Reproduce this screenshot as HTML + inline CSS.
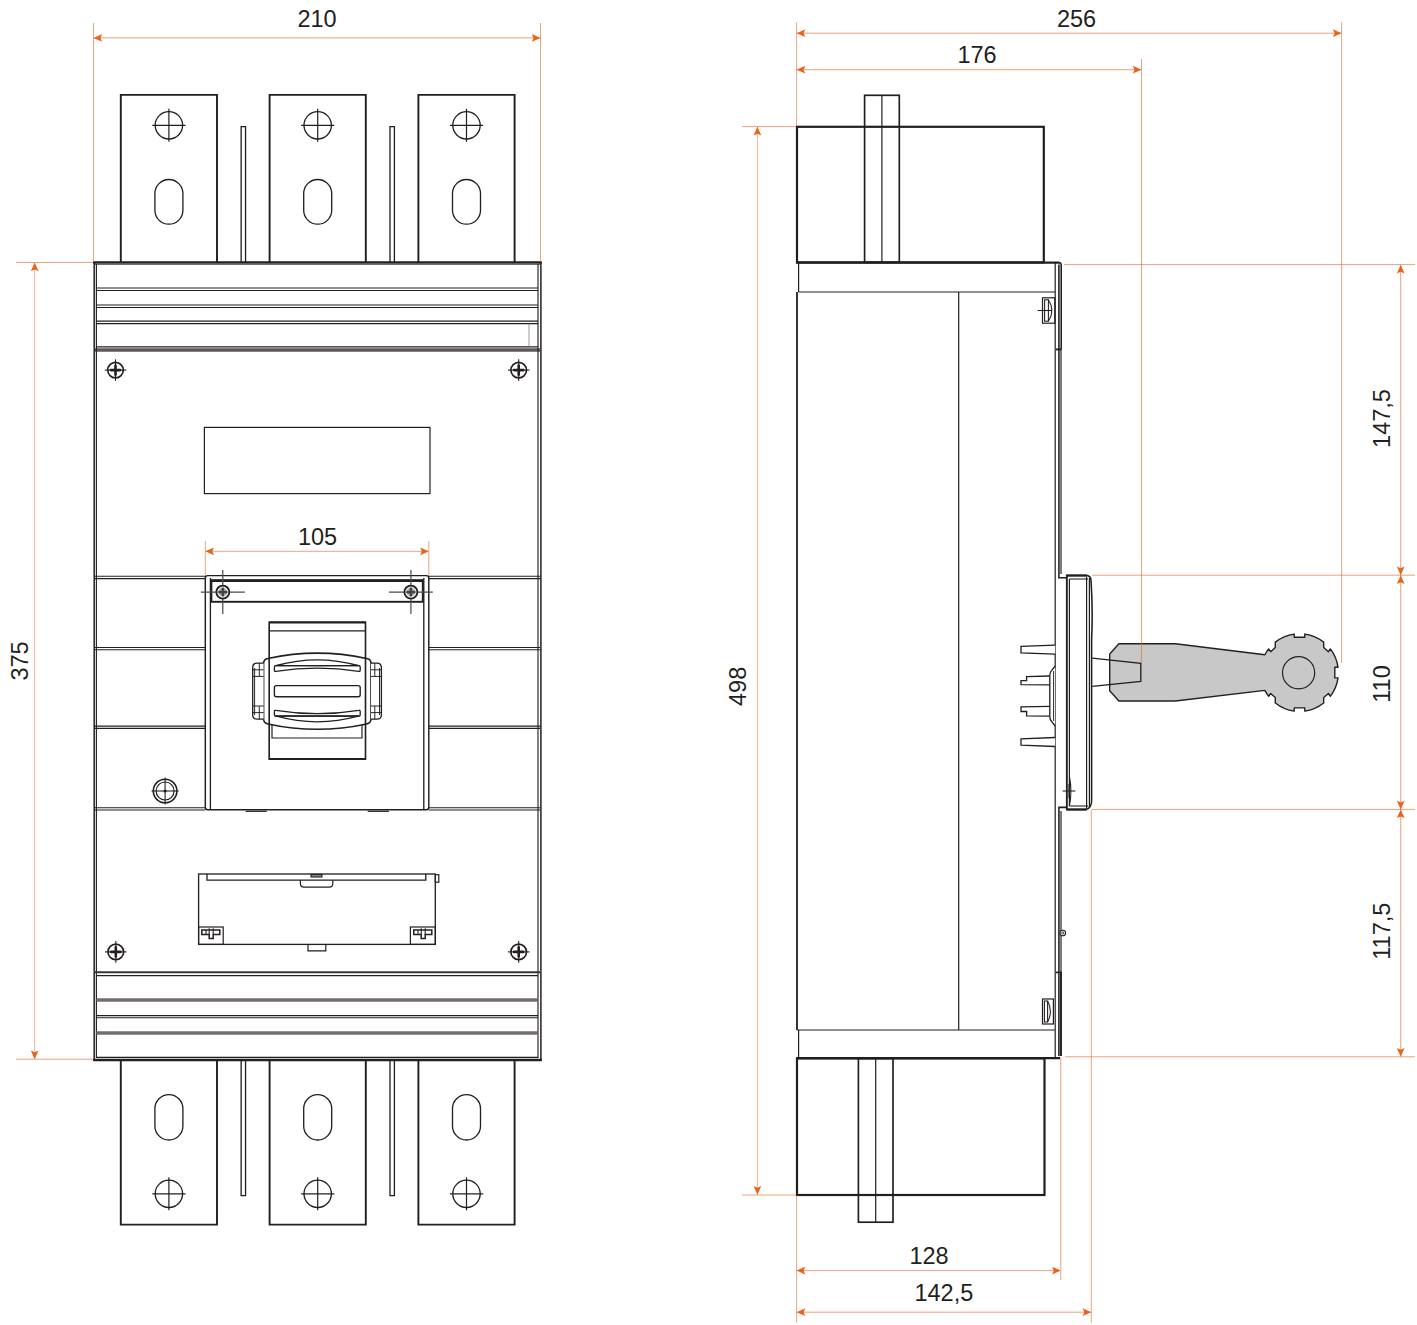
<!DOCTYPE html>
<html><head><meta charset="utf-8"><title>Dimensions</title>
<style>
html,body{margin:0;padding:0;background:#fff}
svg{display:block}
text{font-family:"Liberation Sans",Arial,Helvetica,sans-serif;font-size:23.5px;fill:#231f20}
.k{stroke:#231f20;fill:none}
.o{stroke:#dd6a30;fill:none}
.ar{fill:#e8641e;stroke:none}
</style></head><body>
<svg width="1417" height="1325" viewBox="0 0 1417 1325">
<rect width="1417" height="1325" fill="#fff"/>

<g id="front">
<path d="M120.8 262 V94.9 H217.0 V262" stroke="#231f20" stroke-width="1.92" fill="none" />
<circle cx="168.9" cy="125.3" r="13.7" stroke="#231f20" stroke-width="1.32" fill="none"/>
<line x1="152.3" y1="125.3" x2="185.5" y2="125.3" stroke="#231f20" stroke-width="1.2" />
<line x1="168.9" y1="108.8" x2="168.9" y2="141.8" stroke="#231f20" stroke-width="1.2" />
<rect x="154.9" y="179.5" width="28.0" height="44.7" rx="14" stroke="#231f20" stroke-width="1.32" fill="none"/>
<path d="M120.8 1060.5 V1224.6 H217.0 V1060.5" stroke="#231f20" stroke-width="1.92" fill="none" />
<circle cx="168.9" cy="1193.8" r="13.7" stroke="#231f20" stroke-width="1.32" fill="none"/>
<line x1="152.3" y1="1193.8" x2="185.5" y2="1193.8" stroke="#231f20" stroke-width="1.2" />
<line x1="168.9" y1="1177.3" x2="168.9" y2="1210.3" stroke="#231f20" stroke-width="1.2" />
<rect x="154.9" y="1094.7" width="28.0" height="45.3" rx="14" stroke="#231f20" stroke-width="1.32" fill="none"/>
<path d="M269.6 262 V94.9 H365.8 V262" stroke="#231f20" stroke-width="1.92" fill="none" />
<circle cx="317.7" cy="125.3" r="13.7" stroke="#231f20" stroke-width="1.32" fill="none"/>
<line x1="301.09999999999997" y1="125.3" x2="334.3" y2="125.3" stroke="#231f20" stroke-width="1.2" />
<line x1="317.7" y1="108.8" x2="317.7" y2="141.8" stroke="#231f20" stroke-width="1.2" />
<rect x="303.7" y="179.5" width="28.0" height="44.7" rx="14" stroke="#231f20" stroke-width="1.32" fill="none"/>
<path d="M269.6 1060.5 V1224.6 H365.8 V1060.5" stroke="#231f20" stroke-width="1.92" fill="none" />
<circle cx="317.7" cy="1193.8" r="13.7" stroke="#231f20" stroke-width="1.32" fill="none"/>
<line x1="301.09999999999997" y1="1193.8" x2="334.3" y2="1193.8" stroke="#231f20" stroke-width="1.2" />
<line x1="317.7" y1="1177.3" x2="317.7" y2="1210.3" stroke="#231f20" stroke-width="1.2" />
<rect x="303.7" y="1094.7" width="28.0" height="45.3" rx="14" stroke="#231f20" stroke-width="1.32" fill="none"/>
<path d="M418.4 262 V94.9 H514.6 V262" stroke="#231f20" stroke-width="1.92" fill="none" />
<circle cx="466.5" cy="125.3" r="13.7" stroke="#231f20" stroke-width="1.32" fill="none"/>
<line x1="449.9" y1="125.3" x2="483.1" y2="125.3" stroke="#231f20" stroke-width="1.2" />
<line x1="466.5" y1="108.8" x2="466.5" y2="141.8" stroke="#231f20" stroke-width="1.2" />
<rect x="452.5" y="179.5" width="28.0" height="44.7" rx="14" stroke="#231f20" stroke-width="1.32" fill="none"/>
<path d="M418.4 1060.5 V1224.6 H514.6 V1060.5" stroke="#231f20" stroke-width="1.92" fill="none" />
<circle cx="466.5" cy="1193.8" r="13.7" stroke="#231f20" stroke-width="1.32" fill="none"/>
<line x1="449.9" y1="1193.8" x2="483.1" y2="1193.8" stroke="#231f20" stroke-width="1.2" />
<line x1="466.5" y1="1177.3" x2="466.5" y2="1210.3" stroke="#231f20" stroke-width="1.2" />
<rect x="452.5" y="1094.7" width="28.0" height="45.3" rx="14" stroke="#231f20" stroke-width="1.32" fill="none"/>
<path d="M241.15 262 V126.6 H245.55 V262" stroke="#231f20" stroke-width="1.32" fill="none" />
<path d="M241.15 1060.5 V1195.6 H245.55 V1060.5" stroke="#231f20" stroke-width="1.32" fill="none" />
<path d="M390.00 262 V126.6 H394.40 V262" stroke="#231f20" stroke-width="1.32" fill="none" />
<path d="M390.00 1060.5 V1195.6 H394.40 V1060.5" stroke="#231f20" stroke-width="1.32" fill="none" />
<line x1="93.2" y1="262.5" x2="541.8" y2="262.5" stroke="#231f20" stroke-width="2.3" />
<line x1="95" y1="264.4" x2="540" y2="264.4" stroke="#756e70" stroke-width="1.1" />
<line x1="96.5" y1="288.0" x2="538" y2="288.0" stroke="#231f20" stroke-width="1.2" />
<line x1="96.5" y1="290.5" x2="538" y2="290.5" stroke="#231f20" stroke-width="1.2" />
<line x1="96.5" y1="305.0" x2="538" y2="305.0" stroke="#231f20" stroke-width="1.2" />
<line x1="96.5" y1="307.5" x2="538" y2="307.5" stroke="#231f20" stroke-width="1.2" />
<line x1="96.5" y1="321.2" x2="538" y2="321.2" stroke="#231f20" stroke-width="1.2" />
<line x1="96.5" y1="323.7" x2="538" y2="323.7" stroke="#231f20" stroke-width="1.2" />
<line x1="96.5" y1="346.9" x2="538" y2="346.9" stroke="#231f20" stroke-width="1.2" />
<line x1="95" y1="350.0" x2="540" y2="350.0" stroke="#5e5758" stroke-width="3.4" />
<line x1="529" y1="323.5" x2="529" y2="347.5" stroke="#756e70" stroke-width="0.7" />
<line x1="94.2" y1="262" x2="94.2" y2="1061" stroke="#231f20" stroke-width="1.5" />
<line x1="96.4" y1="264" x2="96.4" y2="1058" stroke="#231f20" stroke-width="1.14" />
<line x1="540.9" y1="262" x2="540.9" y2="1061" stroke="#231f20" stroke-width="1.5" />
<line x1="538.0" y1="264" x2="538.0" y2="1058" stroke="#231f20" stroke-width="1.14" />
<line x1="93.2" y1="1060.0" x2="541.8" y2="1060.0" stroke="#231f20" stroke-width="2.5" />
<line x1="96.5" y1="1057.4" x2="538" y2="1057.4" stroke="#231f20" stroke-width="1.2" />
<line x1="95" y1="972.3" x2="540" y2="972.3" stroke="#3a3536" stroke-width="2.0" />
<line x1="96.5" y1="975.7" x2="538" y2="975.7" stroke="#231f20" stroke-width="1.2" />
<line x1="96.5" y1="999.9" x2="538" y2="999.9" stroke="#756e70" stroke-width="3.5" />
<line x1="96.5" y1="1015.6" x2="538" y2="1015.6" stroke="#231f20" stroke-width="1.14" />
<line x1="96.5" y1="1017.8" x2="538" y2="1017.8" stroke="#231f20" stroke-width="1.14" />
<line x1="96.5" y1="1033.0" x2="538" y2="1033.0" stroke="#756e70" stroke-width="3.3" />
<circle cx="115.5" cy="370.1" r="7.8" stroke="#231f20" stroke-width="1.68" fill="none"/>
<line x1="104.7" y1="370.1" x2="126.3" y2="370.1" stroke="#231f20" stroke-width="1.08" />
<line x1="115.5" y1="359.3" x2="115.5" y2="380.90000000000003" stroke="#231f20" stroke-width="1.08" />
<path d="M110.9 370.1 H120.1 M115.5 365.5 V374.70000000000005" stroke="#231f20" stroke-width="2.6" fill="none" stroke-linecap="round"/>
<circle cx="518.7" cy="370.1" r="7.8" stroke="#231f20" stroke-width="1.68" fill="none"/>
<line x1="507.90000000000003" y1="370.1" x2="529.5" y2="370.1" stroke="#231f20" stroke-width="1.08" />
<line x1="518.7" y1="359.3" x2="518.7" y2="380.90000000000003" stroke="#231f20" stroke-width="1.08" />
<path d="M514.1 370.1 H523.3000000000001 M518.7 365.5 V374.70000000000005" stroke="#231f20" stroke-width="2.6" fill="none" stroke-linecap="round"/>
<circle cx="115.8" cy="951.9" r="7.8" stroke="#231f20" stroke-width="1.68" fill="none"/>
<line x1="105.0" y1="951.9" x2="126.6" y2="951.9" stroke="#231f20" stroke-width="1.08" />
<line x1="115.8" y1="941.1" x2="115.8" y2="962.6999999999999" stroke="#231f20" stroke-width="1.08" />
<path d="M111.2 951.9 H120.39999999999999 M115.8 947.3 V956.5" stroke="#231f20" stroke-width="2.6" fill="none" stroke-linecap="round"/>
<circle cx="518.7" cy="951.9" r="7.8" stroke="#231f20" stroke-width="1.68" fill="none"/>
<line x1="507.90000000000003" y1="951.9" x2="529.5" y2="951.9" stroke="#231f20" stroke-width="1.08" />
<line x1="518.7" y1="941.1" x2="518.7" y2="962.6999999999999" stroke="#231f20" stroke-width="1.08" />
<path d="M514.1 951.9 H523.3000000000001 M518.7 947.3 V956.5" stroke="#231f20" stroke-width="2.6" fill="none" stroke-linecap="round"/>
<rect x="204.4" y="427.4" width="225.6" height="66.2" rx="0" stroke="#231f20" stroke-width="1.2" fill="none"/>
<line x1="94" y1="576.3" x2="205.3" y2="576.3" stroke="#231f20" stroke-width="1.08" />
<line x1="94" y1="578.6" x2="205.3" y2="578.6" stroke="#231f20" stroke-width="1.08" />
<line x1="428.8" y1="576.3" x2="540.4" y2="576.3" stroke="#231f20" stroke-width="1.08" />
<line x1="428.8" y1="578.6" x2="540.4" y2="578.6" stroke="#231f20" stroke-width="1.08" />
<line x1="94" y1="647.5" x2="205.3" y2="647.5" stroke="#231f20" stroke-width="1.08" />
<line x1="94" y1="649.8000000000001" x2="205.3" y2="649.8000000000001" stroke="#231f20" stroke-width="1.08" />
<line x1="428.8" y1="647.5" x2="540.4" y2="647.5" stroke="#231f20" stroke-width="1.08" />
<line x1="428.8" y1="649.8000000000001" x2="540.4" y2="649.8000000000001" stroke="#231f20" stroke-width="1.08" />
<line x1="94" y1="726.1" x2="205.3" y2="726.1" stroke="#231f20" stroke-width="1.08" />
<line x1="94" y1="728.4000000000001" x2="205.3" y2="728.4000000000001" stroke="#231f20" stroke-width="1.08" />
<line x1="428.8" y1="726.1" x2="540.4" y2="726.1" stroke="#231f20" stroke-width="1.08" />
<line x1="428.8" y1="728.4000000000001" x2="540.4" y2="728.4000000000001" stroke="#231f20" stroke-width="1.08" />
<line x1="94" y1="807.6999999999999" x2="205.3" y2="807.6999999999999" stroke="#231f20" stroke-width="1.08" />
<line x1="94" y1="810.0" x2="205.3" y2="810.0" stroke="#231f20" stroke-width="1.08" />
<line x1="428.8" y1="807.6999999999999" x2="540.4" y2="807.6999999999999" stroke="#231f20" stroke-width="1.08" />
<line x1="428.8" y1="810.0" x2="540.4" y2="810.0" stroke="#231f20" stroke-width="1.08" />
<rect x="205.3" y="575.6" width="223.5" height="234.1" rx="2.5" stroke="#231f20" stroke-width="1.44" fill="none"/>
<line x1="210.4" y1="578" x2="210.4" y2="809" stroke="#231f20" stroke-width="1.32" />
<line x1="423.8" y1="578" x2="423.8" y2="809" stroke="#231f20" stroke-width="1.32" />
<rect x="211.4" y="580.6" width="211.4" height="21.2" rx="0" stroke="#231f20" stroke-width="1.92" fill="none"/>
<line x1="211" y1="580.6" x2="423.2" y2="580.6" stroke="#231f20" stroke-width="2.6" />
<line x1="200.8" y1="592.1" x2="244.8" y2="592.1" stroke="#4a4a4a" stroke-width="1.2" />
<line x1="222.8" y1="570.1" x2="222.8" y2="614.1" stroke="#4a4a4a" stroke-width="1.2" />
<circle cx="222.8" cy="592.1" r="6.5" stroke="#231f20" stroke-width="1.8" fill="#fff"/>
<circle cx="222.8" cy="592.1" r="4.6" stroke="#231f20" stroke-width="0.0" fill="#b9b9b9"/>
<line x1="216.8" y1="592.1" x2="228.8" y2="592.1" stroke="#555" stroke-width="0.8" />
<path d="M219.60000000000002 592.1 H226.0 M222.8 588.9 V595.3000000000001" stroke="#444" stroke-width="2.6" fill="none" stroke-linecap="round"/>
<line x1="388.9" y1="592.1" x2="432.9" y2="592.1" stroke="#4a4a4a" stroke-width="1.2" />
<line x1="410.9" y1="570.1" x2="410.9" y2="614.1" stroke="#4a4a4a" stroke-width="1.2" />
<circle cx="410.9" cy="592.1" r="6.5" stroke="#231f20" stroke-width="1.8" fill="#fff"/>
<circle cx="410.9" cy="592.1" r="4.6" stroke="#231f20" stroke-width="0.0" fill="#b9b9b9"/>
<line x1="404.9" y1="592.1" x2="416.9" y2="592.1" stroke="#555" stroke-width="0.8" />
<path d="M407.7 592.1 H414.09999999999997 M410.9 588.9 V595.3000000000001" stroke="#444" stroke-width="2.6" fill="none" stroke-linecap="round"/>
<line x1="245.6" y1="811.3" x2="266.8" y2="811.3" stroke="#231f20" stroke-width="1.2" />
<line x1="367.7" y1="811.3" x2="388.9" y2="811.3" stroke="#231f20" stroke-width="1.2" />
<rect x="269.2" y="622.2" width="96.3" height="137.0" rx="0" stroke="#231f20" stroke-width="1.62" fill="none"/>
<line x1="269" y1="622.4" x2="365.7" y2="622.4" stroke="#231f20" stroke-width="2.0" />
<line x1="269" y1="759" x2="365.7" y2="759" stroke="#231f20" stroke-width="2.0" />
<line x1="269" y1="630.8" x2="365.7" y2="630.8" stroke="#231f20" stroke-width="1.2" />
<path d="M272 725 V738 H362 V725" stroke="#231f20" stroke-width="1.2" fill="none" />
<path d="M263.6 663.4 Q263.6 659 268 658.4 Q317.3 647.8 366.6 658.4 Q371 659 371 663.4 V718.8 Q371 723.2 366.6 723.9 Q317.3 734.7 268 723.9 Q263.6 723.2 263.6 718.8 Z" stroke="#231f20" stroke-width="1.56" fill="#fff" />
<line x1="269.2" y1="657.5" x2="269.2" y2="724.5" stroke="#231f20" stroke-width="1.62" />
<line x1="365.5" y1="657.5" x2="365.5" y2="724.5" stroke="#231f20" stroke-width="1.62" />
<path d="M263.6 663.2 H257.2 Q252.7 663.2 252.7 667.7 V714.7 Q252.7 719.2 257.2 719.2 H263.6" stroke="#231f20" stroke-width="1.32" fill="#fff" />
<line x1="252.7" y1="669.8" x2="263.6" y2="669.8" stroke="#231f20" stroke-width="0.96" />
<line x1="252.7" y1="676.4" x2="263.6" y2="676.4" stroke="#231f20" stroke-width="0.96" />
<line x1="252.7" y1="706" x2="263.6" y2="706" stroke="#231f20" stroke-width="0.96" />
<line x1="252.7" y1="712.6" x2="263.6" y2="712.6" stroke="#231f20" stroke-width="0.96" />
<line x1="254.6" y1="668" x2="254.6" y2="715" stroke="#231f20" stroke-width="0.96" />
<line x1="259.3" y1="663.2" x2="259.3" y2="676.4" stroke="#231f20" stroke-width="0.96" />
<line x1="259.3" y1="706" x2="259.3" y2="719.2" stroke="#231f20" stroke-width="0.96" />
<path d="M371 663.2 H376.9 Q381.4 663.2 381.4 667.7 V714.7 Q381.4 719.2 376.9 719.2 H371" stroke="#231f20" stroke-width="1.32" fill="#fff" />
<line x1="371" y1="669.8" x2="381.4" y2="669.8" stroke="#231f20" stroke-width="0.96" />
<line x1="371" y1="676.4" x2="381.4" y2="676.4" stroke="#231f20" stroke-width="0.96" />
<line x1="371" y1="706" x2="381.4" y2="706" stroke="#231f20" stroke-width="0.96" />
<line x1="371" y1="712.6" x2="381.4" y2="712.6" stroke="#231f20" stroke-width="0.96" />
<line x1="379.5" y1="668" x2="379.5" y2="715" stroke="#231f20" stroke-width="0.96" />
<line x1="374.79999999999995" y1="663.2" x2="374.79999999999995" y2="676.4" stroke="#231f20" stroke-width="0.96" />
<line x1="374.79999999999995" y1="706" x2="374.79999999999995" y2="719.2" stroke="#231f20" stroke-width="0.96" />
<path d="M274.4 667 Q274.4 665.7 275.6 665.7 H359 Q360.2 665.7 360.2 667 V670 Q360.2 671.7 358.8 671.4 Q317.3 664.7 275.8 671.4 Q274.4 671.7 274.4 670 Z" stroke="#231f20" stroke-width="1.32" fill="none" />
<line x1="275.2" y1="665.6" x2="359.4" y2="665.6" stroke="#231f20" stroke-width="1.38" />
<path d="M276.4 665.5 Q317.3 654.3 358.2 665.5" stroke="#231f20" stroke-width="1.32" fill="none" />
<path d="M274.4 714.7 Q274.4 716.0 275.6 716.0 H359 Q360.2 716.0 360.2 714.7 V711.7 Q360.2 710.0 358.8 710.3 Q317.3 717.0 275.8 710.3 Q274.4 710.0 274.4 711.7 Z" stroke="#231f20" stroke-width="1.32" fill="none" />
<line x1="275.2" y1="716.1" x2="359.4" y2="716.1" stroke="#231f20" stroke-width="1.38" />
<path d="M276.4 716.2 Q317.3 727.4 358.2 716.2" stroke="#231f20" stroke-width="1.32" fill="none" />
<rect x="274.4" y="685.6" width="85.8" height="11.1" rx="2" stroke="#231f20" stroke-width="1.38" fill="none"/>
<circle cx="165.1" cy="791" r="11.8" stroke="#231f20" stroke-width="1.56" fill="none"/>
<circle cx="165.1" cy="791" r="9" stroke="#231f20" stroke-width="1.2" fill="none"/>
<line x1="151.5" y1="791" x2="178.7" y2="791" stroke="#231f20" stroke-width="1.08" />
<line x1="165.1" y1="777.4" x2="165.1" y2="804.6" stroke="#231f20" stroke-width="1.08" />
<circle cx="165.1" cy="791" r="1.6" stroke="#231f20" stroke-width="0.0" fill="#231f20"/>
<rect x="198.6" y="874" width="236.7" height="70.4" rx="0" stroke="#231f20" stroke-width="1.32" fill="none"/>
<path d="M207 874 V880.2 H425.8 V874" stroke="#231f20" stroke-width="1.32" fill="none" />
<rect x="311" y="874.4" width="11" height="2.6" rx="0" stroke="#231f20" stroke-width="1.08" fill="#888"/>
<path d="M300.4 880.2 V883.6 Q300.4 887.2 304 887.2 H329.2 Q332.8 887.2 332.8 883.6 V880.2" stroke="#231f20" stroke-width="1.2" fill="none" />
<path d="M308 944.4 V950.8 H325.8 V944.4" stroke="#231f20" stroke-width="1.2" fill="none" />
<rect x="198.6" y="927" width="24.6" height="17.4" rx="0" stroke="#231f20" stroke-width="1.2" fill="none"/>
<rect x="410.4" y="927" width="24.9" height="17.4" rx="0" stroke="#231f20" stroke-width="1.2" fill="none"/>
<path d="M201.79999999999998 930 H219.79999999999998 V934.6 H213.2 V938.4 H209.2 V934.6 H201.79999999999998 Z" stroke="#231f20" stroke-width="1.5" fill="none" />
<line x1="206.0" y1="930" x2="206.0" y2="934.6" stroke="#231f20" stroke-width="1.08" />
<line x1="209.2" y1="928.2" x2="209.2" y2="934.6" stroke="#231f20" stroke-width="1.08" />
<line x1="213.2" y1="928.2" x2="213.2" y2="934.6" stroke="#231f20" stroke-width="1.08" />
<path d="M413.8 930 H431.8 V934.6 H425.20000000000005 V938.4 H421.20000000000005 V934.6 H413.8 Z" stroke="#231f20" stroke-width="1.5" fill="none" />
<line x1="418.0" y1="930" x2="418.0" y2="934.6" stroke="#231f20" stroke-width="1.08" />
<line x1="421.20000000000005" y1="928.2" x2="421.20000000000005" y2="934.6" stroke="#231f20" stroke-width="1.08" />
<line x1="425.20000000000005" y1="928.2" x2="425.20000000000005" y2="934.6" stroke="#231f20" stroke-width="1.08" />
<rect x="435.3" y="874.7" width="3.5" height="7.5" rx="0" stroke="#231f20" stroke-width="1.2" fill="none"/>
</g>
<g id="dimL">
<line class="o" x1="93.5" y1="23" x2="93.5" y2="262" stroke-width="0.62"/>
<line class="o" x1="540.5" y1="23" x2="540.5" y2="262" stroke-width="0.62"/>
<line class="o" x1="94" y1="37.9" x2="540" y2="37.9" stroke-width="0.62"/>
<polygon class="ar" points="93.5,37.9 102.2,34.0 100.5,37.9 102.2,41.8"/>
<polygon class="ar" points="540.5,37.9 531.8,34.0 533.5,37.9 531.8,41.8"/>
<line class="o" x1="16" y1="262.5" x2="93" y2="262.5" stroke-width="0.62"/>
<line class="o" x1="16" y1="1059.2" x2="93" y2="1059.2" stroke-width="0.62"/>
<line class="o" x1="34.7" y1="263" x2="34.7" y2="1059" stroke-width="0.5"/>
<polygon class="ar" points="34.7,262.6 30.8,271.3 34.7,269.6 38.6,271.3"/>
<polygon class="ar" points="34.7,1059.2 30.8,1050.5 34.7,1052.2 38.6,1050.5"/>
<line class="o" x1="205.3" y1="541" x2="205.3" y2="576" stroke-width="0.62"/>
<line class="o" x1="428.8" y1="541" x2="428.8" y2="576" stroke-width="0.62"/>
<line class="o" x1="206" y1="551.3" x2="428" y2="551.3" stroke-width="0.62"/>
<polygon class="ar" points="205.3,551.3 214.0,547.4 212.3,551.3 214.0,555.2"/>
<polygon class="ar" points="428.8,551.3 420.1,547.4 421.8,551.3 420.1,555.2"/>
<text x="317" y="26.8" text-anchor="middle">210</text>
<text x="317.5" y="544.7" text-anchor="middle">105</text>
<text transform="translate(27.8 661) rotate(-90)" text-anchor="middle">375</text>
</g>
<g id="side">
<rect x="864.6" y="95.3" width="34.7" height="167.1" rx="0" stroke="#231f20" stroke-width="1.68" fill="none"/>
<line x1="881.9" y1="95.3" x2="881.9" y2="262" stroke="#231f20" stroke-width="1.2" />
<rect x="797" y="126.8" width="246.8" height="135.6" rx="0" stroke="#231f20" stroke-width="2.2" fill="none"/>
<line x1="796.2" y1="262.6" x2="1059" y2="262.6" stroke="#231f20" stroke-width="2.2" />
<line x1="798.6" y1="263" x2="798.6" y2="292" stroke="#231f20" stroke-width="1.2" />
<line x1="798.6" y1="292" x2="1055" y2="292" stroke="#231f20" stroke-width="1.2" />
<line x1="797" y1="292" x2="797" y2="1030" stroke="#231f20" stroke-width="1.8" />
<line x1="958.7" y1="292" x2="958.7" y2="1030" stroke="#231f20" stroke-width="1.2" />
<line x1="797" y1="1030" x2="1055" y2="1030" stroke="#231f20" stroke-width="1.2" />
<line x1="798.6" y1="1030" x2="798.6" y2="1058" stroke="#231f20" stroke-width="1.2" />
<line x1="796.2" y1="1058.2" x2="1060" y2="1058.2" stroke="#231f20" stroke-width="2.2" />
<line x1="1055.2" y1="263" x2="1055.2" y2="1057" stroke="#231f20" stroke-width="1.2" />
<path d="M1058.9 264.5 V577.8 H1068" stroke="#231f20" stroke-width="1.56" fill="none" />
<path d="M1059 262.6 Q1061.2 262.8 1061.2 265 V349" stroke="#231f20" stroke-width="1.56" fill="none" />
<line x1="1061" y1="349" x2="1061" y2="574" stroke="#231f20" stroke-width="1.2" />
<line x1="1056" y1="349.4" x2="1061.4" y2="349.4" stroke="#231f20" stroke-width="1.92" />
<rect x="1042.5" y="297.8" width="12.3" height="25.4" rx="0" stroke="#231f20" stroke-width="1.2" fill="none"/>
<rect x="1044.6" y="299.8" width="3.8" height="21.4" rx="0" stroke="#231f20" stroke-width="1.08" fill="none"/>
<path d="M1048.4 299.8 Q1055.5 310.5 1048.4 321.2" stroke="#231f20" stroke-width="1.08" fill="none" />
<line x1="1037.6" y1="310.5" x2="1052" y2="310.5" stroke="#231f20" stroke-width="1.08" />
<rect x="1042.5" y="999" width="10.9" height="25" rx="0" stroke="#231f20" stroke-width="1.2" fill="none"/>
<rect x="1044.4" y="1001" width="3.2" height="21" rx="0" stroke="#231f20" stroke-width="1.08" fill="none"/>
<path d="M1047.6 1001 Q1053.2 1011.5 1047.6 1022" stroke="#231f20" stroke-width="1.08" fill="none" />
<path d="M1068 807.4 H1058.9 V1056" stroke="#231f20" stroke-width="1.56" fill="none" />
<line x1="1061" y1="811" x2="1061" y2="972" stroke="#231f20" stroke-width="1.2" />
<line x1="1061" y1="972" x2="1061" y2="1056" stroke="#231f20" stroke-width="1.92" />
<line x1="1056" y1="972.4" x2="1061.4" y2="972.4" stroke="#231f20" stroke-width="1.68" />
<circle cx="1062.8" cy="933" r="2.8" stroke="#231f20" stroke-width="1.08" fill="#fff"/>
<circle cx="1062.8" cy="933" r="1.1" stroke="#231f20" stroke-width="0.84" fill="none"/>
<path d="M1066.7 575.4 H1086 Q1090.6 575.6 1091 580 Q1093 610 1091.6 640 V800 Q1091.8 808 1086 809.6 H1066.7 Z" stroke="#231f20" stroke-width="1.56" fill="#fff" />
<line x1="1066.7" y1="575.6" x2="1087" y2="575.6" stroke="#231f20" stroke-width="2.0" />
<line x1="1066.7" y1="809.4" x2="1087" y2="809.4" stroke="#231f20" stroke-width="2.0" />
<line x1="1066.8" y1="576" x2="1066.8" y2="809" stroke="#231f20" stroke-width="1.56" />
<line x1="1069.4" y1="579" x2="1069.4" y2="806" stroke="#231f20" stroke-width="1.2" />
<line x1="1069.4" y1="579" x2="1088" y2="579" stroke="#231f20" stroke-width="1.08" />
<line x1="1069.4" y1="806" x2="1088" y2="806" stroke="#231f20" stroke-width="1.08" />
<line x1="1086.6" y1="577" x2="1086.6" y2="808" stroke="#231f20" stroke-width="1.2" />
<line x1="1089.4" y1="578" x2="1089.4" y2="807" stroke="#231f20" stroke-width="1.2" />
<line x1="1062.6" y1="791" x2="1075.4" y2="791" stroke="#231f20" stroke-width="1.08" />
<line x1="1069" y1="784" x2="1069" y2="798" stroke="#231f20" stroke-width="1.08" />
<path d="M1069.4 776 Q1072.4 791 1069.4 806" stroke="#231f20" stroke-width="1.08" fill="none" />
<path d="M1055.2 645.1 L1021 646.4 V652.8000000000001 L1055.2 654.1" stroke="#231f20" stroke-width="1.32" fill="#fff" />
<path d="M1055.2 737.5 L1021 738.8 V745.2 L1055.2 746.5" stroke="#231f20" stroke-width="1.32" fill="#fff" />
<path d="M1049.8 676 L1026.6 676.7 V680.6 H1021 V684.6 L1049.8 684.8" stroke="#231f20" stroke-width="1.32" fill="#fff" />
<path d="M1049.8 716.2 L1026.6 715.8 V711.5 H1021 V706.8 L1049.8 706.4" stroke="#231f20" stroke-width="1.32" fill="#fff" />
<path d="M1055.2 666 L1051.6 670.6 Q1049.8 672.4 1049.8 675 V717 Q1049.8 719.6 1051.6 721.4 L1055.2 726" stroke="#231f20" stroke-width="1.32" fill="#fff" />
<line x1="1053.6" y1="671" x2="1053.6" y2="721" stroke="#231f20" stroke-width="0.96" />
<path d="M1109.7 654 L1118.9 643.7 H1175.4 L1264.9 654.8 A38.9 38.9 0 0 1 1268.64 648.92 L1270.60 651.70 L1275.30 647.60 L1275.30 642.14 A38.9 38.9 0 0 1 1294.20 634.06 L1294.20 637.30 L1304.80 637.30 L1304.80 634.06 A38.9 38.9 0 0 1 1323.70 642.14 L1323.70 647.60 L1328.40 651.70 L1330.36 648.92 A38.9 38.9 0 0 1 1338.04 667.30 L1334.80 667.30 L1334.80 677.90 L1338.04 677.90 A38.9 38.9 0 0 1 1330.36 696.28 L1328.40 693.50 L1323.70 697.60 L1323.70 703.06 A38.9 38.9 0 0 1 1304.80 711.14 L1304.80 707.90 L1294.20 707.90 L1294.20 711.14 A38.9 38.9 0 0 1 1275.30 703.06 L1275.30 697.60 L1270.60 693.50 L1268.64 696.28 A38.9 38.9 0 0 1 1264.9 690.4 L1175.4 701 H1118.9 L1109.7 690.8 Z" stroke="#231f20" stroke-width="1.38" fill="#c8c8c8" stroke-linejoin="round"/>
<circle cx="1298.6" cy="672.7" r="16.1" stroke="#231f20" stroke-width="1.2" fill="none"/>
<path d="M1092.2 658.2 L1140.8 663.4 V681.4 L1092.2 686.4" stroke="#231f20" stroke-width="1.32" fill="none" />
<rect x="858.4" y="1058.4" width="34.6" height="163.8" rx="0" stroke="#231f20" stroke-width="1.68" fill="none"/>
<line x1="875.7" y1="1058.4" x2="875.7" y2="1222" stroke="#231f20" stroke-width="1.2" />
<rect x="797" y="1058.4" width="247.5" height="136.6" rx="0" stroke="#231f20" stroke-width="2.2" fill="none"/>
</g>
<g id="dimR">
<line class="o" x1="796.6" y1="22.5" x2="796.6" y2="126" stroke-width="0.62"/>
<line class="o" x1="1341.6" y1="22.5" x2="1341.6" y2="663" stroke-width="0.62"/>
<line class="o" x1="1141.5" y1="59" x2="1141.5" y2="663" stroke-width="0.62"/>
<line class="o" x1="797" y1="33.2" x2="1341" y2="33.2" stroke-width="0.62"/>
<polygon class="ar" points="796.6,33.2 805.3,29.3 803.6,33.2 805.3,37.1"/>
<polygon class="ar" points="1341.6,33.2 1332.9,29.3 1334.6,33.2 1332.9,37.1"/>
<line class="o" x1="797" y1="69.7" x2="1141" y2="69.7" stroke-width="0.62"/>
<polygon class="ar" points="796.6,69.7 805.3,65.8 803.6,69.7 805.3,73.6"/>
<polygon class="ar" points="1141.5,69.7 1132.8,65.8 1134.5,69.7 1132.8,73.6"/>
<line class="o" x1="742" y1="126.6" x2="796" y2="126.6" stroke-width="0.62"/>
<line class="o" x1="742" y1="1195" x2="796" y2="1195" stroke-width="0.62"/>
<line class="o" x1="757.4" y1="127" x2="757.4" y2="1195" stroke-width="0.5"/>
<polygon class="ar" points="757.4,126.7 753.5,135.4 757.4,133.7 761.3,135.4"/>
<polygon class="ar" points="757.4,1194.8 753.5,1186.1 757.4,1187.8 761.3,1186.1"/>
<line class="o" x1="1064" y1="264.6" x2="1415" y2="264.6" stroke-width="0.62"/>
<line class="o" x1="1092" y1="575.2" x2="1415" y2="575.2" stroke-width="0.62"/>
<line class="o" x1="1092" y1="809.4" x2="1415" y2="809.4" stroke-width="0.62"/>
<line class="o" x1="1065" y1="1056.8" x2="1415" y2="1056.8" stroke-width="0.62"/>
<line class="o" x1="1400.7" y1="265" x2="1400.7" y2="1056.5" stroke-width="0.62"/>
<polygon class="ar" points="1400.7,264.7 1396.8,273.4 1400.7,271.7 1404.6,273.4"/>
<polygon class="ar" points="1400.7,575.2 1396.8,566.5 1400.7,568.2 1404.6,566.5"/>
<polygon class="ar" points="1400.7,575.2 1396.8,583.9 1400.7,582.2 1404.6,583.9"/>
<polygon class="ar" points="1400.7,809.4 1396.8,800.7 1400.7,802.4 1404.6,800.7"/>
<polygon class="ar" points="1400.7,809.4 1396.8,818.1 1400.7,816.4 1404.6,818.1"/>
<polygon class="ar" points="1400.7,1056.8 1396.8,1048.1 1400.7,1049.8 1404.6,1048.1"/>
<line class="o" x1="796.6" y1="1195.5" x2="796.6" y2="1322.6" stroke-width="0.62"/>
<line class="o" x1="1060.8" y1="1057" x2="1060.8" y2="1280" stroke-width="0.62"/>
<line class="o" x1="1091.3" y1="810" x2="1091.3" y2="1322.6" stroke-width="0.62"/>
<line class="o" x1="797" y1="1270.6" x2="1060" y2="1270.6" stroke-width="0.62"/>
<polygon class="ar" points="796.6,1270.6 805.3,1266.7 803.6,1270.6 805.3,1274.5"/>
<polygon class="ar" points="1060.8,1270.6 1052.1,1266.7 1053.8,1270.6 1052.1,1274.5"/>
<line class="o" x1="797" y1="1312.2" x2="1091" y2="1312.2" stroke-width="0.62"/>
<polygon class="ar" points="796.6,1312.2 805.3,1308.3 803.6,1312.2 805.3,1316.1"/>
<polygon class="ar" points="1091.3,1312.2 1082.6,1308.3 1084.3,1312.2 1082.6,1316.1"/>
<text x="1076.6" y="26.7" text-anchor="middle">256</text>
<text x="977" y="63.2" text-anchor="middle">176</text>
<text x="929" y="1263.7" text-anchor="middle">128</text>
<text x="943.9" y="1300.9" text-anchor="middle">142,5</text>
<text transform="translate(745.6 686.4) rotate(-90)" text-anchor="middle">498</text>
<text transform="translate(1389.8 418.5) rotate(-90)" text-anchor="middle">147,5</text>
<text transform="translate(1390 684) rotate(-90)" text-anchor="middle">110</text>
<text transform="translate(1390.4 931.2) rotate(-90)" text-anchor="middle">117,5</text>
</g>
</svg></body></html>
